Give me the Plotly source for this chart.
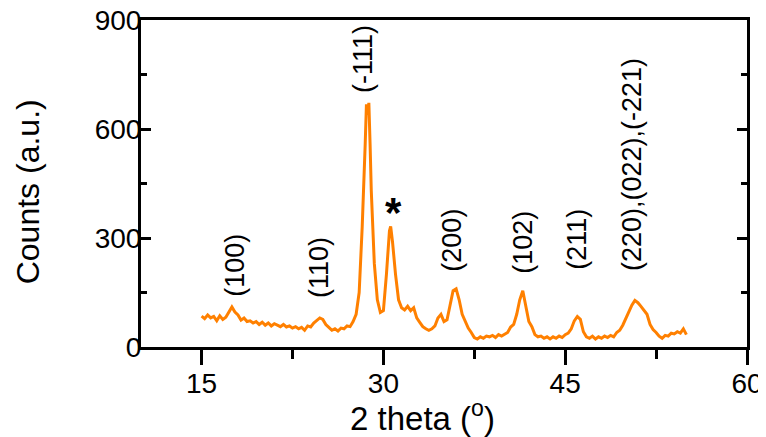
import plotly.graph_objects as go

two_theta = [15.00, 15.25, 15.50, 15.75, 16.00, 16.25, 16.50, 16.75, 17.00, 17.25, 17.50, 17.75,
             18.00, 18.25, 18.50, 18.75, 19.00, 19.25, 19.50, 19.75, 20.00, 20.25, 20.50, 20.75,
             21.00, 21.25, 21.50, 21.75, 22.00, 22.25, 22.50, 22.75, 23.00, 23.25, 23.50, 23.75,
             24.00, 24.25, 24.50, 24.75, 25.00, 25.25, 25.50, 25.75, 26.00, 26.25, 26.50, 26.75,
             27.00, 27.25, 27.50, 27.75, 28.00, 28.25, 28.50, 28.60, 28.70, 28.80, 28.90, 29.00,
             29.25, 29.50, 29.75, 30.00, 30.25, 30.50, 30.60, 30.75, 31.00, 31.25, 31.50, 31.75,
             32.00, 32.25, 32.50, 32.75, 33.00, 33.25, 33.50, 33.75, 34.00, 34.25, 34.50, 34.75,
             35.00, 35.25, 35.50, 35.75, 36.00, 36.25, 36.50, 36.75, 37.00, 37.25, 37.50, 37.75,
             38.00, 38.25, 38.50, 38.75, 39.00, 39.25, 39.50, 39.75, 40.00, 40.25, 40.50, 40.75,
             41.00, 41.25, 41.50, 41.75, 42.00, 42.25, 42.50, 42.75, 43.00, 43.25, 43.50, 43.75,
             44.00, 44.25, 44.50, 44.75, 45.00, 45.25, 45.50, 45.75, 46.00, 46.25, 46.50, 46.75,
             47.00, 47.25, 47.50, 47.75, 48.00, 48.25, 48.50, 48.75, 49.00, 49.25, 49.50, 49.75,
             50.00, 50.25, 50.50, 50.75, 51.00, 51.25, 51.50, 51.75, 52.00, 52.25, 52.50, 52.75,
             53.00, 53.25, 53.50, 53.75, 54.00, 54.25, 54.50, 54.75, 55.00]

counts = [85, 78, 88, 80, 84, 72, 86, 76, 82, 95, 110, 96,
          88, 74, 80, 70, 72, 66, 70, 62, 68, 60, 66, 58,
          64, 60, 56, 62, 55, 58, 52, 56, 50, 54, 46, 58,
          55, 66, 72, 80, 76, 62, 54, 46, 50, 44, 52, 50,
          58, 56, 70, 90, 150, 330, 560, 668, 640, 672, 560, 430,
          230, 130, 95, 100, 200, 320, 332, 290, 200, 130, 108, 102,
          112, 100, 108, 80, 68, 56, 50, 46, 50, 58, 80, 90,
          70, 75, 115, 155, 160, 130, 90, 70, 52, 40, 26, 22,
          28, 24, 30, 28, 32, 26, 34, 30, 36, 40, 55, 62,
          90, 130, 155, 110, 70, 56, 34, 28, 30, 24, 28, 22,
          28, 24, 30, 26, 34, 38, 50, 72, 84, 76, 42, 28,
          24, 30, 22, 28, 24, 30, 26, 32, 28, 40, 46, 60,
          80, 100, 115, 128, 122, 112, 100, 90, 62, 48, 40, 30,
          24, 32, 30, 38, 36, 42, 38, 50, 34]

peak_labels = ["(100)", "(110)", "(-111)", "(200)", "(102)", "(211)", "(220),(022),(-221)"]
peak_label_x = [17.8, 24.7, 28.3, 35.7, 41.5, 46.0, 50.5]
peak_label_y = [225, 218, 792, 294, 289, 296, 503]

x_ticks = [15, 30, 45, 60]
y_ticks = [0, 300, 600, 900]

FONT = "Liberation Sans, Arial"

fig = go.Figure()
fig.add_trace(go.Scatter(x=two_theta, y=counts, mode="lines",
                         line=dict(color="#FF8000", width=3), showlegend=False))

for t, xv, yv in zip(peak_labels, peak_label_x, peak_label_y):
    fig.add_annotation(x=xv, y=yv, text=t, textangle=-90, showarrow=False,
                       font=dict(family=FONT, size=27, color="black"),
                       xanchor="center", yanchor="middle")

fig.add_annotation(x=30.8, y=370, text="<b>*</b>", showarrow=False,
                   font=dict(family=FONT, size=42, color="black"),
                   xanchor="center", yanchor="middle")

fig.add_annotation(xref="paper", yref="paper", x=-0.186, y=0.474, text="Counts (a.u.)",
                   textangle=-90, showarrow=False,
                   font=dict(family=FONT, size=32, color="black"),
                   xanchor="center", yanchor="middle")
fig.add_annotation(xref="paper", yref="paper", x=0.464, y=-0.212, text="2 theta (<sup>o</sup>)",
                   showarrow=False,
                   font=dict(family=FONT, size=33, color="black"),
                   xanchor="center", yanchor="middle")

fig.update_layout(
    width=758, height=429,
    margin=dict(l=133, r=19, t=12, b=90, autoexpand=False),
    paper_bgcolor="white", plot_bgcolor="white",
    font=dict(family=FONT, color="black"),
    xaxis=dict(range=[10, 60], tickvals=x_ticks, ticks="outside", ticklen=15, tickwidth=3,
               tickcolor="black", showline=True, linecolor="black", linewidth=3,
               mirror=True, showgrid=False, zeroline=False, automargin=False,
               tickfont=dict(size=28), ticklabelstandoff=-6, ticklabeloverflow="allow",
               minor=dict(tickvals=[22.5, 37.5, 52.5], ticks="outside", ticklen=9,
                          tickwidth=3, tickcolor="black", showgrid=False)),
    yaxis=dict(range=[0, 900], tickvals=y_ticks, ticks="inside", ticklen=10, tickwidth=3,
               tickcolor="black", showline=True, linecolor="black", linewidth=3,
               mirror="ticks", showgrid=False, zeroline=False, automargin=False,
               tickfont=dict(size=28), ticklabelstandoff=-9, ticklabeloverflow="allow",
               minor=dict(tickvals=[150, 450, 750], ticks="inside", ticklen=6,
                          tickwidth=3, tickcolor="black", showgrid=False)),
)

fig.write_html("out.html")
